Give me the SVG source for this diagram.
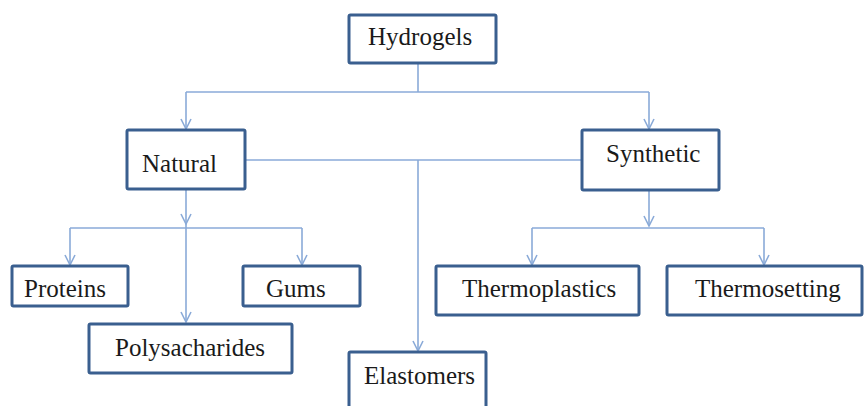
<svg xmlns="http://www.w3.org/2000/svg" width="864" height="406" viewBox="0 0 864 406">
<style>
.box{fill:#fff;stroke:#3a5f8f;stroke-width:3}
.lbl{font-family:'Liberation Serif','Times New Roman','DejaVu Serif',serif;font-size:25px;fill:#1a1a1a}
.c{fill:none;stroke:#8aaad8;stroke-width:1.6}
</style>
<defs>
<marker id="ah" markerUnits="userSpaceOnUse" markerWidth="14" markerHeight="14" viewBox="-12 -7 14 14" refX="0" refY="0" orient="auto">
<path d="M-10,-5 L0,0 L-10,5" fill="none" stroke="#8aaad8" stroke-width="1.6"/>
</marker>
</defs>
<rect width="864" height="406" fill="#fff"/>
<g id="connectors">
<path class="c" d="M418,63 V92"/>
<path class="c" d="M186,92 H649"/>
<path class="c" d="M186,92 V129" marker-end="url(#ah)"/>
<path class="c" d="M649,92 V129" marker-end="url(#ah)"/>
<path class="c" d="M245,160 H582"/>
<path class="c" d="M418,160 V351" marker-end="url(#ah)"/>
<path class="c" d="M186,189 V224" marker-end="url(#ah)"/>
<path class="c" d="M186,224 V322" marker-end="url(#ah)"/>
<path class="c" d="M70,228 H302"/>
<path class="c" d="M70,228 V265" marker-end="url(#ah)"/>
<path class="c" d="M302,228 V265" marker-end="url(#ah)"/>
<path class="c" d="M649,190 V226" marker-end="url(#ah)"/>
<path class="c" d="M532,228 H764"/>
<path class="c" d="M532,228 V265" marker-end="url(#ah)"/>
<path class="c" d="M764,228 V265" marker-end="url(#ah)"/>
</g>
<g id="hydrogels"><rect class="box" x="349" y="15" width="147" height="48" rx="1.5"/><text class="lbl" font-family="Liberation Serif, serif" x="368" y="45">Hydrogels</text></g>
<g id="natural"><rect class="box" x="127" y="130" width="118" height="59" rx="1.5"/><text class="lbl" x="142" y="172">Natural</text></g>
<g id="synthetic"><rect class="box" x="582" y="130" width="137" height="60" rx="1.5"/><text class="lbl" x="606" y="162">Synthetic</text></g>
<g id="proteins"><rect class="box" x="12" y="266" width="116" height="40" rx="1.5"/><text class="lbl" x="24" y="297">Proteins</text></g>
<g id="gums"><rect class="box" x="243" y="266" width="117" height="40" rx="1.5"/><text class="lbl" x="266" y="297">Gums</text></g>
<g id="polysacharides"><rect class="box" x="89" y="324" width="203" height="49" rx="1.5"/><text class="lbl" x="115" y="356">Polysacharides</text></g>
<g id="thermoplastics"><rect class="box" x="436" y="266" width="203" height="49" rx="1.5"/><text class="lbl" x="462" y="297">Thermoplastics</text></g>
<g id="thermosetting"><rect class="box" x="667" y="266" width="195" height="49" rx="1.5"/><text class="lbl" x="695" y="297">Thermosetting</text></g>
<g id="elastomers"><rect class="box" x="349" y="352" width="137" height="70" rx="1.5"/><text class="lbl" x="364" y="384">Elastomers</text></g>
</svg>
